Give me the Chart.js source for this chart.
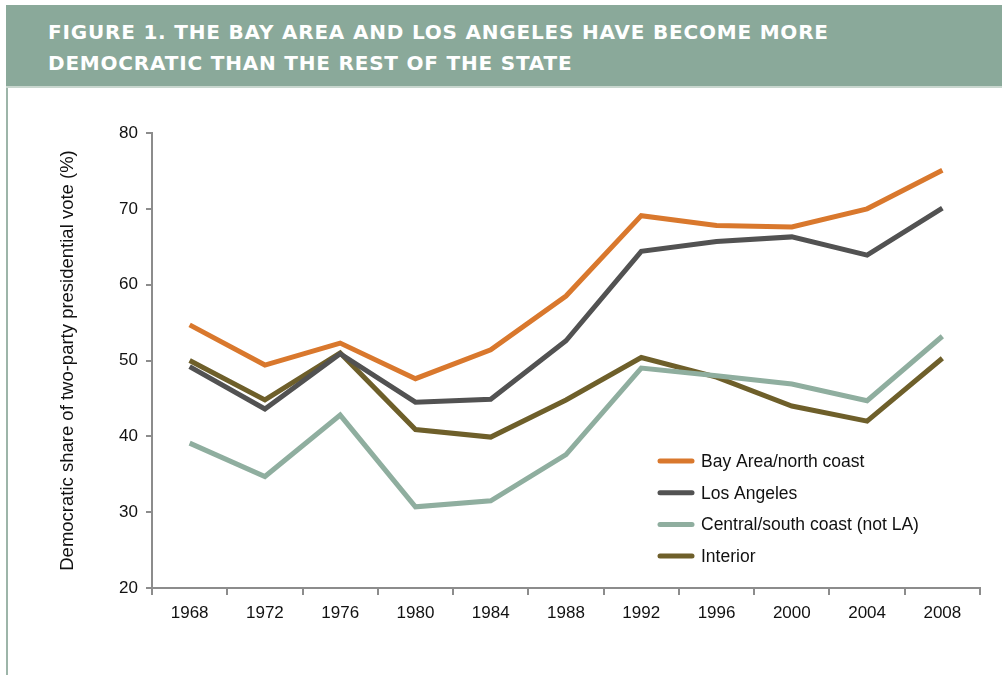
<!DOCTYPE html>
<html>
<head>
<meta charset="utf-8">
<script src="https://cdn.jsdelivr.net/npm/chart.js@4/dist/chart.umd.min.js"></script>
<style>
  html, body { margin: 0; padding: 0; background: #fff; }
  body { width: 1002px; height: 675px; position: relative; overflow: hidden; }
  .header {
    position: absolute; left: 6px; top: 5px; width: 996px; height: 83px;
    background: #8aa99a; border-bottom: 2px solid #c9d7cf; box-sizing: border-box;
  }
  .header h1 {
    margin: 0; position: absolute; left: 42px; top: 12px;
    font-family: "DejaVu Sans", Verdana, sans-serif; font-weight: bold;
    font-size: 20px; line-height: 31px; color: #fff; letter-spacing: 0.8px;
  }
  .side { position: absolute; left: 6px; top: 88px; width: 2px; height: 587px; background: #9db5a9; }
  .chart-box { position: absolute; left: 8px; top: 88px; width: 994px; height: 587px; }
</style>
</head>
<body>
<div class="header"><h1>FIGURE 1. THE BAY AREA AND LOS ANGELES HAVE BECOME MORE<br>DEMOCRATIC THAN THE REST OF THE STATE</h1></div>
<div class="side"></div>
<div class="chart-box"><canvas id="myChart" width="994" height="587"></canvas></div>
<script>
const years = ['1968', '1972', '1976', '1980', '1984', '1988', '1992', '1996', '2000', '2004', '2008'];
const bayArea = [54.7, 49.4, 52.3, 47.6, 51.4, 58.5, 69.1, 67.8, 67.6, 70.0, 75.1];
const losAngeles = [49.2, 43.6, 50.9, 44.5, 44.9, 52.6, 64.4, 65.7, 66.3, 63.9, 70.1];
const centralCoast = [39.1, 34.7, 42.8, 30.7, 31.5, 37.6, 49.0, 48.0, 46.9, 44.7, 53.2];
const interior = [50.0, 44.8, 51.0, 40.9, 39.9, 44.8, 50.4, 47.8, 44.0, 42.0, 50.3];
const yTicks = [20, 30, 40, 50, 60, 70, 80];

const axisGray = '#8c8c8c';
const fontFamily = '"Liberation Sans", Arial, sans-serif';

// legend drawn inside the plot, lower right
const insideLegend = {
    id: 'insideLegend',
    afterDraw(chart) {
        const ctx = chart.ctx;
        const area = chart.chartArea;
        const x0 = area.left + 508;
        let y = area.top + 328;
        ctx.save();
        ctx.font = '17.5px ' + fontFamily;
        ctx.textBaseline = 'middle';
        chart.data.datasets.forEach(ds => {
            ctx.strokeStyle = ds.borderColor;
            ctx.lineWidth = 5;
            ctx.lineCap = 'round';
            ctx.beginPath();
            ctx.moveTo(x0, y);
            ctx.lineTo(x0 + 32, y);
            ctx.stroke();
            ctx.fillStyle = '#111';
            ctx.fillText(ds.label, x0 + 41, y + 1);
            y += 31.7;
        });
        ctx.restore();
    }
};

let ctx = document.getElementById('myChart');
Chart.defaults.font.family = fontFamily;
Chart.defaults.color = '#111';

new Chart(ctx, {
    type: 'line',
    data: {
        labels: years,
        datasets: [
            { label: 'Bay Area/north coast', data: bayArea, borderColor: '#d9782d' },
            { label: 'Los Angeles', data: losAngeles, borderColor: '#525252' },
            { label: 'Central/south coast (not LA)', data: centralCoast, borderColor: '#8fae9f' },
            { label: 'Interior', data: interior, borderColor: '#6e5f2a' }
        ].map(d => Object.assign(d, { borderWidth: 5, pointRadius: 0, tension: 0, fill: false }))
    },
    options: {
        responsive: false,
        animation: false,
        layout: { padding: { top: 45, right: 22, left: 0, bottom: 0 } },
        plugins: { legend: { display: false }, tooltip: { enabled: false } },
        scales: {
            x: {
                offset: true,
                grid: { offset: true, drawOnChartArea: false, tickLength: 7, color: axisGray, lineWidth: 2 },
                border: { color: axisGray, width: 2 },
                ticks: { font: { size: 17 }, color: '#111', padding: 8, maxRotation: 0 },
                afterFit(scale) { scale.height = 87; }
            },
            y: {
                min: 20, max: 80,
                afterBuildTicks(scale) { scale.ticks = yTicks.map(v => ({ value: v })); },
                grid: { drawOnChartArea: false, tickLength: 6, color: axisGray, lineWidth: 2 },
                border: { color: axisGray, width: 2 },
                ticks: { font: { size: 17 }, color: '#111', padding: 8 },
                title: {
                    display: true,
                    text: 'Democratic share of two-party presidential vote (%)',
                    font: { size: 18.5 }, color: '#111',
                    padding: { top: 49, bottom: 0 }
                },
                afterFit(scale) { scale.width = 144; }
            }
        }
    },
    plugins: [insideLegend]
});
</script>
</body>
</html>
